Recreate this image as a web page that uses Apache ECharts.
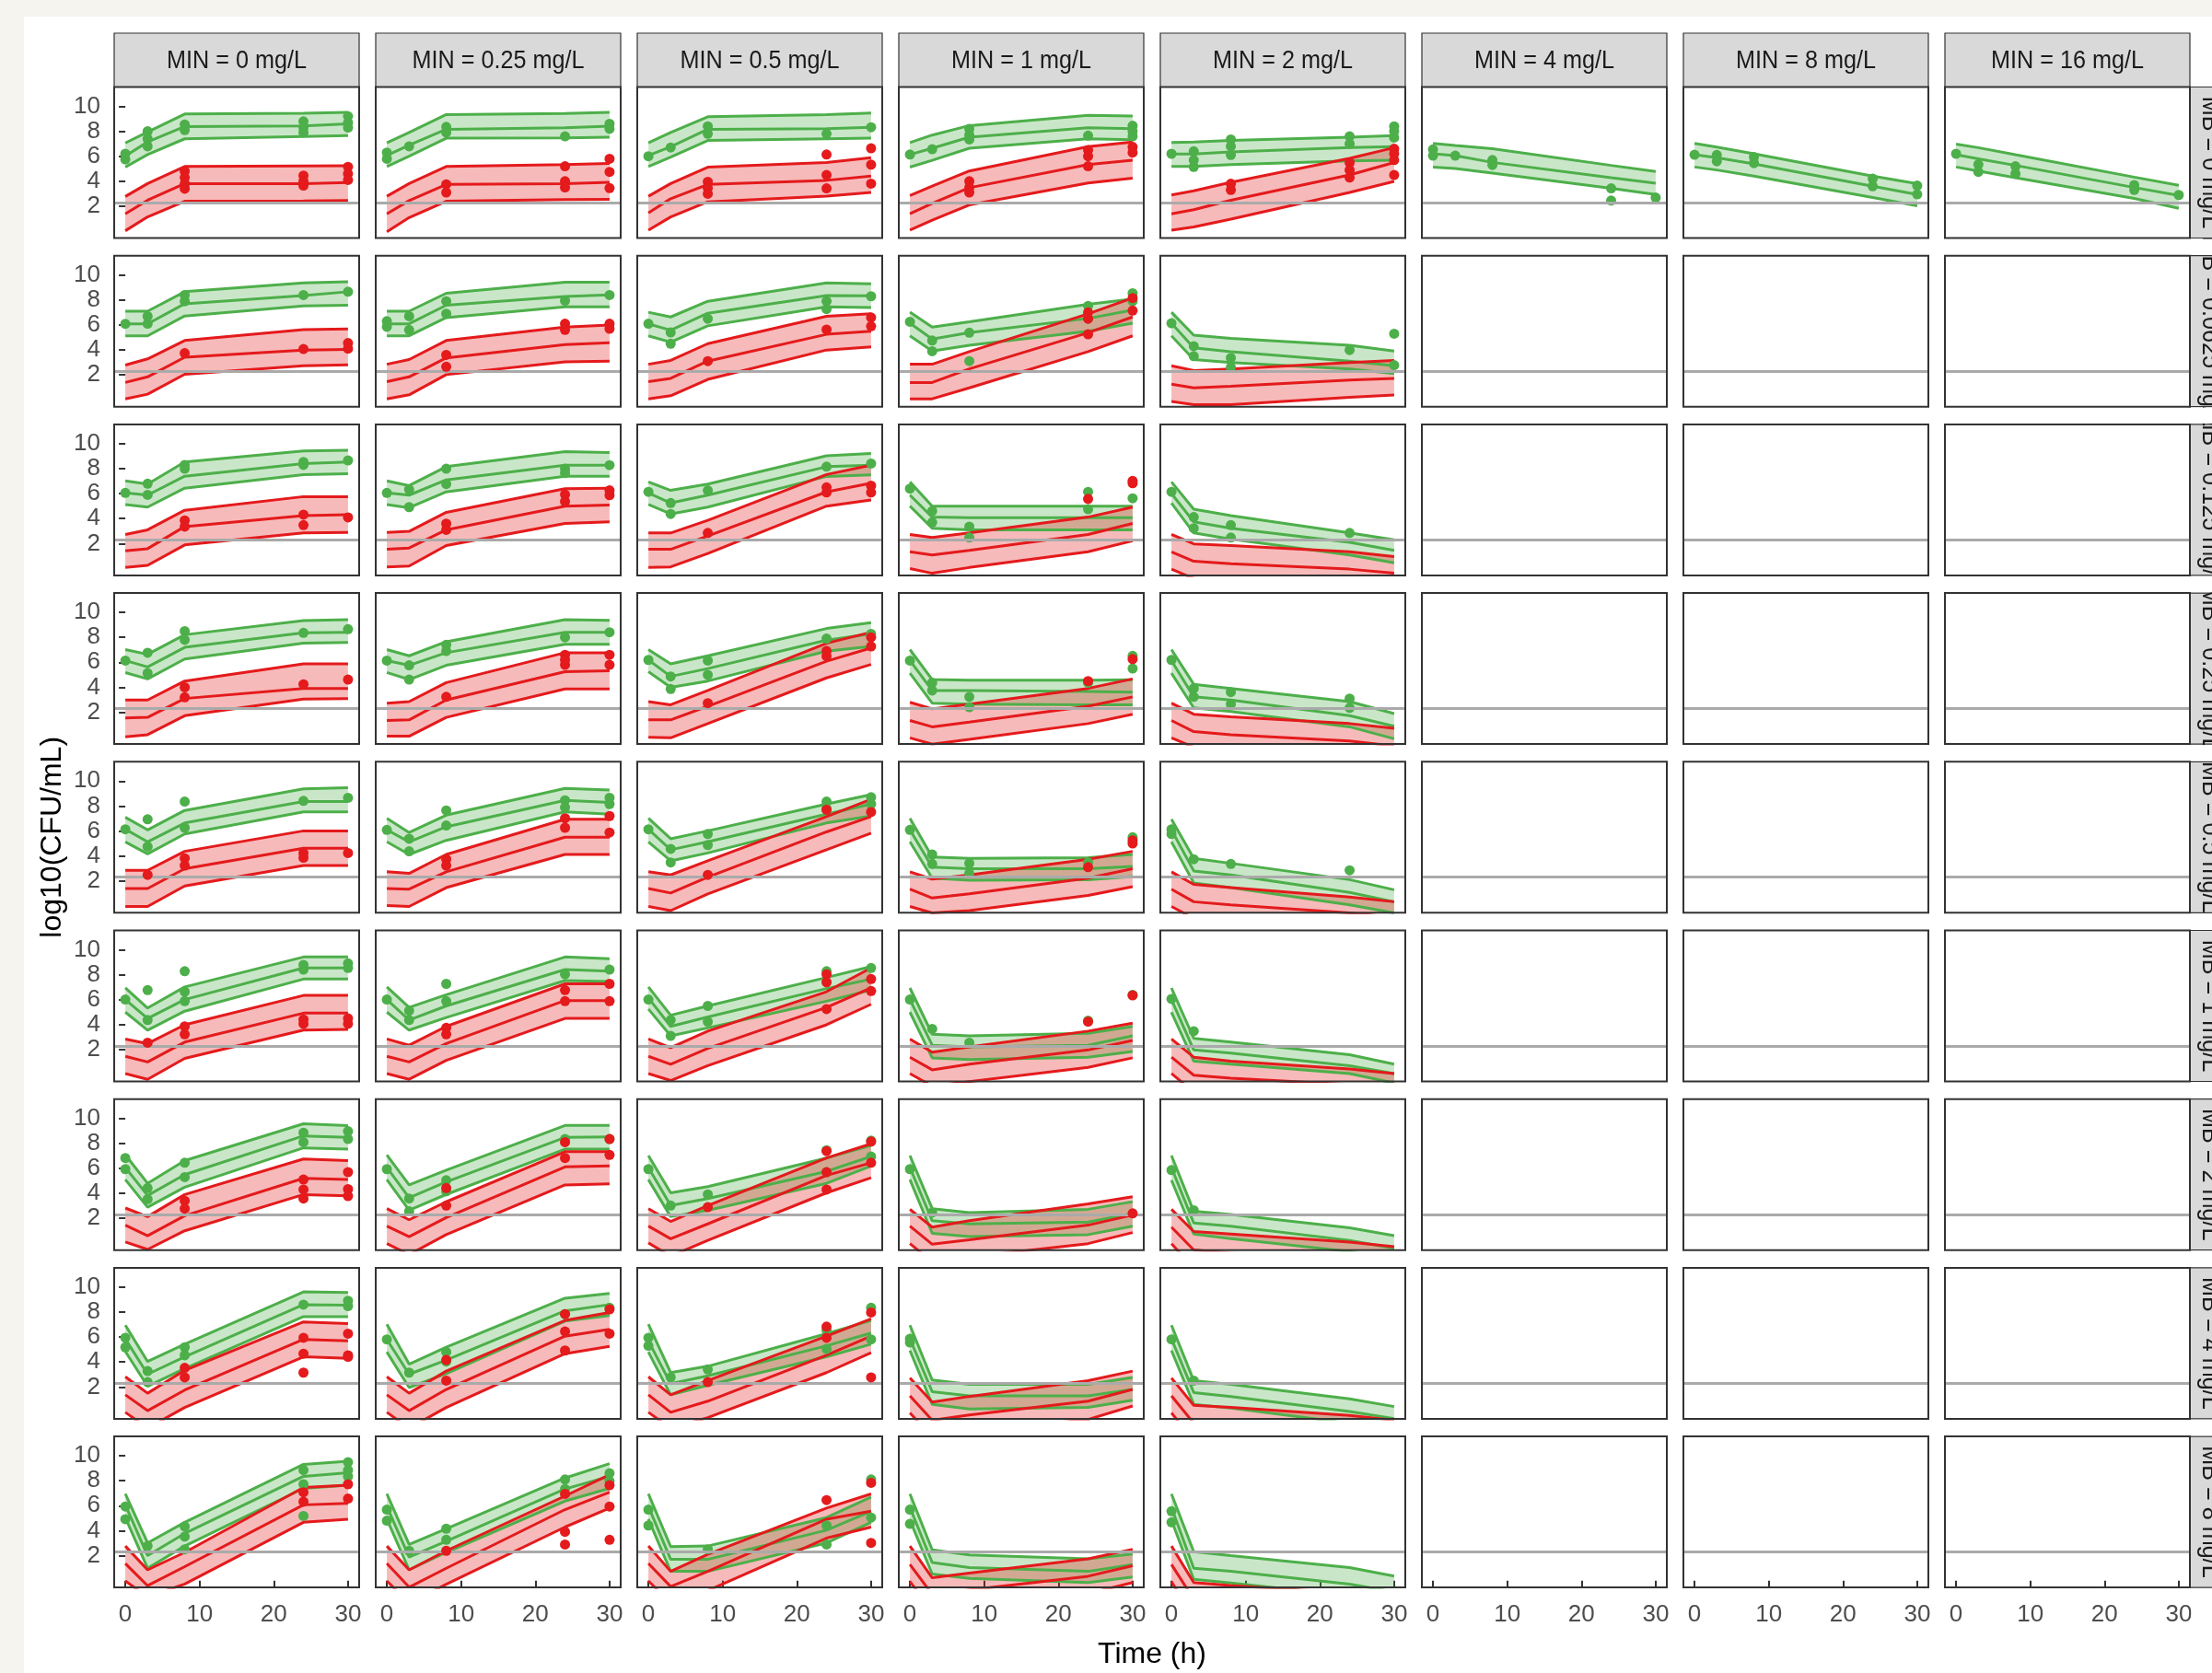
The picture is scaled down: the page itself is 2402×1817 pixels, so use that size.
<!DOCTYPE html>
<html><head><meta charset="utf-8">
<script src="https://cdn.jsdelivr.net/npm/echarts@6/dist/echarts.min.js"></script>
<style>
html,body{margin:0;padding:0;background:#f5f4ef;overflow:hidden;}
#bg{position:absolute;left:26px;top:18px;right:0;bottom:0;background:#ffffff;}
#c{position:absolute;left:0;top:0;width:2402px;height:1817px;}
</style>
</head><body><div id="bg"></div><div id="c"></div>
<script>
// ---------- shared scales / labels ----------
const times = [0, 3, 8, 24, 30];
const xTicks = [0, 10, 20, 30];
const yTicks = [2, 4, 6, 8, 10];
const LOQ = 2.3;
const minLabels = ['MIN = 0 mg/L','MIN = 0.25 mg/L','MIN = 0.5 mg/L','MIN = 1 mg/L','MIN = 2 mg/L','MIN = 4 mg/L','MIN = 8 mg/L','MIN = 16 mg/L'];
const mbLabels = ['MB = 0 mg/L','MB = 0.0625 mg/L','MB = 0.125 mg/L','MB = 0.25 mg/L','MB = 0.5 mg/L','MB = 1 mg/L','MB = 2 mg/L','MB = 4 mg/L','MB = 8 mg/L'];

// ---------- row MB = 0 ----------
const gHi0 = [[7.07,7.95,9.39,9.45,9.52],[7.07,7.90,9.34,9.42,9.52],[7.07,7.90,9.17,9.34,9.47],[7.10,7.70,8.46,9.29,9.22],[7.10,7.15,7.27,7.53,7.65],[7.03,6.86,6.61,5.27,4.78],[7.03,6.74,6.20,4.41,3.80],[6.98,6.69,6.12,4.33,3.67]];
const gMid0 = [[6.01,7.15,8.38,8.43,8.59],[6.06,6.90,8.16,8.28,8.41],[6.06,6.77,8.16,8.21,8.33],[6.14,6.64,7.53,8.28,8.21],[6.19,6.19,6.34,6.69,6.77],[6.20,6.05,5.51,4.29,3.84],[6.12,5.88,5.39,3.60,2.94],[6.12,5.80,5.27,3.50,2.86]];
const gLo0 = [[5.13,6.14,7.40,7.58,7.65],[5.18,6.01,7.45,7.48,7.53],[5.18,5.93,7.27,7.40,7.45],[5.13,5.68,6.64,7.40,7.32],[5.18,5.18,5.33,5.63,5.68],[5.14,5.02,4.65,3.43,2.94],[5.14,4.90,4.41,2.69,2.03],[5.14,4.82,4.29,2.62,1.83]];
const rHi0 = [[2.78,3.81,5.18,5.23,5.25],[2.80,3.81,5.18,5.33,5.43],[2.80,3.81,5.13,5.50,5.88],[2.85,3.61,4.82,6.77,7.15],[2.90,3.23,3.91,5.83,6.69]];
const rMid0 = [[1.39,2.48,3.81,3.81,3.90],[1.39,2.45,3.74,3.81,3.91],[1.46,2.60,3.74,4.07,4.42],[1.39,2.22,3.48,5.33,5.68],[1.39,1.72,2.48,4.50,5.50]];
const rLo0 = [[0.03,1.14,2.40,2.42,2.45],[-0.05,1.09,2.40,2.53,2.55],[0.08,1.14,2.35,2.80,3.10],[0.08,0.88,2.10,3.86,4.24],[0.08,0.33,0.96,3.10,3.99]];
const gPts0 = [
 [[0,6.2],[0,5.75],[3,8.0],[3,7.4],[3,6.8],[8,8.55],[8,8.1],[24,8.8],[24,8.3],[24,7.9],[30,9.2],[30,8.7],[30,8.3]],
 [[0,6.3],[0,5.8],[3,6.8],[8,8.35],[8,7.9],[24,7.6],[30,8.6],[30,8.2]],
 [[0,6.0],[3,6.7],[8,8.4],[8,7.8],[24,7.8],[30,8.33]],
 [[0,6.14],[3,6.57],[8,8.2],[8,7.7],[8,7.35],[24,7.65],[30,8.45],[30,8.0],[30,7.6]],
 [[0,6.2],[3,6.4],[3,5.7],[3,5.15],[8,7.35],[8,6.8],[8,6.1],[24,7.6],[24,7.0],[30,8.4],[30,8.0],[30,7.5]],
 [[0,6.55],[0,6.05],[3,6.05],[8,5.7],[8,5.3],[24,3.43],[24,2.45],[30,2.69]],
 [[0,6.12],[3,6.1],[3,5.6],[8,5.95],[8,5.45],[24,4.2],[24,3.6],[30,3.65],[30,2.95]],
 [[0,6.2],[3,5.35],[3,4.75],[8,5.2],[8,4.6],[24,3.7],[24,3.3],[30,2.9]]
];
const rPts0 = [
 [[8,4.8],[8,4.3],[8,3.8],[8,3.4],[24,4.45],[24,4.0],[24,3.65],[30,5.15],[30,4.6],[30,4.1]],
 [[8,3.75],[8,3.1],[24,5.2],[24,4.0],[24,3.5],[30,5.8],[30,4.75],[30,3.45]],
 [[8,3.95],[8,3.45],[8,3.0],[24,6.14],[24,4.5],[24,3.43],[30,6.64],[30,5.33],[30,3.81]],
 [[8,4.0],[8,3.5],[8,3.1],[24,6.5],[24,6.0],[24,5.2],[30,6.75],[30,6.3]],
 [[8,3.8],[8,3.3],[24,5.5],[24,4.9],[24,4.3],[30,6.6],[30,6.2],[30,5.7],[30,4.5]]
];

// ---------- row MB = 0.0625 ----------
const gHi1 = [[7.10,7.10,8.66,9.37,9.47],[7.10,7.10,8.54,9.42,9.42],[7.02,6.64,7.90,9.37,9.29],[7.02,5.83,6.26,7.65,8.08],[7.02,5.18,4.92,4.37,3.91]];
const gMid1 = [[6.09,6.09,7.70,8.36,8.66],[6.09,6.09,7.58,8.28,8.41],[6.09,5.58,6.94,8.36,8.33],[6.14,4.87,5.38,6.52,7.20],[6.14,4.17,3.86,3.10,2.73]];
const gLo1 = [[5.13,5.13,6.72,7.53,7.58],[5.13,5.13,6.59,7.45,7.45],[5.13,4.62,5.93,7.45,7.40],[5.13,3.91,4.37,5.50,6.14],[5.13,3.23,2.98,2.48,2.10]];
const rHi1 = [[2.78,3.28,4.75,5.63,5.68],[2.85,3.23,4.75,5.83,6.00],[2.85,3.16,4.50,6.70,6.90],[2.85,2.85,3.86,6.89,8.16],[2.73,2.35,2.48,2.98,3.16]];
const rMid1 = [[1.39,1.84,3.41,3.99,4.04],[1.46,1.84,3.36,4.42,4.57],[1.46,1.72,3.10,5.25,5.50],[1.39,1.39,2.48,5.38,6.64],[1.26,0.96,1.08,1.59,1.72]];
const rLo1 = [[0.08,0.45,2.05,2.73,2.80],[0.08,0.40,2.02,3.05,3.10],[0.08,0.33,1.64,3.99,4.24],[0.08,0.08,0.96,3.86,5.13],[-0.13,-0.38,-0.38,0.20,0.38]];
const gPts1 = [
 [[0,6.09],[3,6.7],[3,6.1],[8,8.4],[8,7.9],[24,8.4],[30,8.66]],
 [[0,6.3],[0,5.85],[3,6.7],[3,5.6],[8,7.9],[8,6.9],[24,7.95],[30,8.4]],
 [[0,6.1],[3,5.4],[3,4.5],[8,6.5],[24,7.9],[24,7.27],[30,8.3]],
 [[0,6.26],[3,4.75],[3,3.9],[8,5.38],[8,3.1],[24,7.52],[24,6.52],[30,8.54],[30,7.9]],
 [[0,6.14],[3,4.3],[3,3.5],[8,3.36],[8,2.6],[24,3.99],[30,5.3],[30,2.78]]
];
const rPts1 = [
 [[8,3.74],[24,4.07],[30,4.55],[30,4.1]],
 [[8,3.6],[8,2.65],[24,6.1],[24,5.6],[30,6.1],[30,5.7]],
 [[8,3.1],[24,5.63],[30,6.6],[30,5.9]],
 [[24,7.0],[24,6.5],[24,5.25],[30,8.16],[30,7.15]],
 []
];

// ---------- row MB = 0.125 ----------
const gHi2 = [[7.02,6.77,8.54,9.42,9.47],[7.02,6.64,8.16,9.37,9.29],[6.94,6.26,6.77,9.04,9.22],[6.94,5.00,5.00,5.00,5.00],[6.94,4.75,4.24,2.85,2.30]];
const gMid2 = [[6.06,5.88,7.40,8.41,8.54],[6.06,5.88,7.10,8.28,8.28],[6.06,5.25,5.88,8.16,8.28],[5.88,4.12,4.07,4.07,4.07],[6.01,3.74,3.23,2.10,1.46]];
const gLo2 = [[5.13,4.92,6.44,7.53,7.60],[5.13,4.87,6.14,7.40,7.40],[5.13,4.37,4.92,7.38,7.50],[5.00,3.23,3.10,3.10,3.10],[5.25,2.85,2.35,1.08,0.45]];
const rHi2 = [[2.73,3.10,4.67,5.76,5.76],[2.90,2.98,4.50,6.39,6.44],[2.85,2.85,3.86,7.53,8.28],[2.73,2.48,2.85,4.12,4.92],[2.73,1.97,1.84,1.34,0.96]];
const rMid2 = [[1.41,1.59,3.36,4.24,4.32],[1.54,1.64,3.10,5.00,5.08],[1.54,1.54,2.60,6.14,6.84],[1.34,1.08,1.46,2.73,3.61],[1.34,0.58,0.38,-0.05,-0.38]];
const rLo2 = [[0.08,0.25,1.89,2.85,2.90],[0.13,0.20,1.84,3.61,3.74],[0.08,0.13,1.21,5.00,5.50],[0.00,-0.38,0.08,1.34,2.22],[-0.05,-0.80,-0.95,-1.40,-1.75]];
const gPts2 = [
 [[0,6.06],[3,6.8],[3,5.9],[8,8.3],[8,8.0],[24,8.54],[24,8.3],[30,8.66]],
 [[0,6.06],[3,6.34],[3,4.92],[8,8.0],[8,6.77],[24,8.0],[24,7.65],[30,8.28]],
 [[0,6.14],[3,5.25],[3,4.37],[8,6.26],[24,8.16],[30,8.41]],
 [[0,6.4],[3,4.6],[3,3.7],[8,3.36],[8,2.48],[24,6.14],[24,4.75],[30,5.63]],
 [[0,6.14],[3,4.12],[3,3.23],[8,3.48],[8,2.48],[24,2.85]]
];
const rPts2 = [
 [[8,3.86],[8,3.36],[24,4.32],[24,3.48],[30,4.1]],
 [[8,3.6],[8,3.1],[24,5.93],[24,5.38],[30,6.26],[30,5.88]],
 [[8,2.85],[24,6.5],[24,6.1],[30,6.64],[30,6.1]],
 [[24,5.58],[30,7.02],[30,6.84]],
 []
];

// ---------- row MB = 0.25 ----------
const gHi3 = [[7.02,6.64,8.21,9.34,9.42],[7.02,6.52,7.65,9.42,9.37],[7.02,5.88,6.52,8.71,9.17],[7.02,4.62,4.57,4.57,4.60],[7.02,4.24,3.91,2.85,1.89]];
const gMid3 = [[6.14,5.63,7.20,8.36,8.41],[6.14,5.76,6.77,8.41,8.41],[6.19,4.87,5.50,7.78,8.28],[6.14,3.74,3.74,3.66,3.61],[6.14,3.23,2.98,1.72,0.88]];
const gLo3 = [[5.18,4.67,6.26,7.53,7.60],[5.18,4.62,5.76,7.45,7.45],[5.25,3.99,4.50,6.89,7.27],[5.13,2.73,2.65,2.60,2.60],[5.13,2.35,2.05,0.83,-0.13]];
const rHi3 = [[2.98,2.98,4.50,5.88,5.88],[2.73,2.85,4.37,6.77,6.77],[2.85,2.60,3.74,7.53,8.41],[2.80,2.27,2.65,3.91,4.67],[2.73,1.84,1.64,1.09,0.71]];
const rMid3 = [[1.54,1.59,3.10,3.91,3.91],[1.34,1.39,2.98,5.25,5.33],[1.39,1.39,2.48,6.09,7.15],[1.34,0.83,1.21,2.48,3.23],[1.34,0.45,0.20,-0.30,-0.70]];
const rLo3 = [[0.03,0.20,1.72,3.05,3.10],[0.08,0.08,1.59,3.86,3.86],[0.00,-0.05,1.09,4.75,5.83],[-0.05,-0.56,-0.18,1.09,1.84],[-0.05,-0.80,-1.05,-1.55,-2.00]];
const gPts3 = [
 [[0,6.14],[3,6.77],[3,5.13],[8,8.5],[8,7.8],[24,8.36],[30,8.66]],
 [[0,6.14],[3,5.76],[3,4.62],[8,7.4],[8,6.9],[24,8.0],[30,8.41]],
 [[0,6.19],[3,4.87],[3,3.86],[8,6.14],[8,5.0],[24,7.9],[30,8.28]],
 [[0,6.14],[3,4.37],[3,3.74],[8,3.23],[8,2.4],[24,4.37],[30,6.52],[30,5.5]],
 [[0,6.19],[3,3.91],[3,3.23],[8,3.61],[8,2.65],[24,3.1],[24,2.35]]
];
const rPts3 = [
 [[8,4.0],[8,3.2],[24,4.24],[30,4.62]],
 [[8,3.23],[24,6.6],[24,6.2],[24,5.8],[30,6.6],[30,5.8]],
 [[8,2.73],[24,6.9],[24,6.5],[30,8.0],[30,7.27]],
 [[24,4.5],[30,6.26]],
 []
];

// ---------- row MB = 0.5 ----------
const gHi4 = [[7.10,6.09,7.65,9.37,9.47],[7.02,5.88,7.27,9.42,9.29],[7.02,5.38,6.01,8.16,8.91],[7.02,3.91,3.81,3.86,4.12],[6.94,3.81,3.41,2.10,1.29]];
const gMid4 = [[6.14,5.13,6.64,8.36,8.36],[6.09,5.13,6.34,8.46,8.28],[6.14,4.50,5.13,7.35,8.16],[6.09,3.10,2.98,2.98,3.16],[6.09,2.80,2.48,1.08,0.33]];
const gLo4 = [[5.13,4.17,5.76,7.53,7.53],[5.13,4.12,5.25,7.53,7.35],[5.13,3.61,4.24,6.64,7.20],[5.13,2.22,2.05,2.10,2.35],[5.13,1.84,1.46,0.08,-0.56]];
const rHi4 = [[2.85,2.85,4.37,6.01,6.01],[2.73,2.60,4.12,6.94,6.94],[2.73,2.48,3.61,7.15,8.54],[2.73,2.15,2.48,3.74,4.37],[2.73,1.72,1.46,0.71,0.33]];
const rMid4 = [[1.39,1.39,2.98,4.62,4.62],[1.39,1.34,2.73,5.50,5.50],[1.39,1.03,2.30,5.93,7.15],[1.34,0.63,0.96,2.22,2.98],[1.34,0.33,0.08,-0.56,-0.93]];
const rLo4 = [[-0.05,-0.05,1.59,3.23,3.23],[0.03,-0.05,1.46,4.12,4.12],[-0.05,-0.38,0.96,4.50,5.83],[-0.05,-0.56,-0.38,0.83,1.54],[-0.05,-1.00,-1.25,-1.70,-2.10]];
const gPts4 = [
 [[0,6.14],[3,6.94],[3,4.75],[8,8.36],[8,6.26],[24,8.41],[30,8.66]],
 [[0,6.09],[3,5.38],[3,4.37],[8,7.65],[8,6.44],[24,8.46],[24,7.9],[30,8.66],[30,8.16]],
 [[0,6.14],[3,4.57],[3,3.48],[8,5.76],[8,4.87],[24,8.36],[24,7.78],[30,8.71],[30,8.16]],
 [[0,6.09],[3,4.12],[3,3.36],[8,3.41],[8,2.6],[24,3.48],[30,5.5]],
 [[0,6.14],[0,5.76],[3,3.74],[8,3.36],[24,2.85]]
];
const rPts4 = [
 [[3,2.48],[8,3.81],[8,3.23],[24,4.24],[24,3.86],[30,4.24]],
 [[8,3.74],[8,3.23],[24,7.02],[24,6.26],[30,7.2],[30,5.88]],
 [[8,2.48],[24,7.7],[30,7.52]],
 [[24,3.1],[30,5.25],[30,5.0]],
 []
];

// ---------- row MB = 1 ----------
const gHi5 = [[6.94,5.33,7.02,9.42,9.42],[7.02,5.38,6.39,9.42,9.29],[7.02,4.75,5.50,7.78,8.66],[6.94,3.23,3.10,3.31,3.86],[6.94,2.90,2.60,1.59,0.83]];
const gMid5 = [[6.01,4.50,6.01,8.54,8.54],[6.01,4.37,5.50,8.41,8.28],[6.14,3.86,4.62,6.89,7.65],[6.01,2.35,2.22,2.35,3.10],[6.01,1.97,1.72,0.71,0.08]];
const gLo5 = [[5.00,3.56,5.08,7.65,7.65],[5.00,3.56,4.57,7.53,7.45],[5.25,3.10,3.74,5.88,6.77],[5.00,1.34,1.21,1.39,1.84],[5.00,1.08,0.83,0.08,-0.68]];
const rHi5 = [[2.85,2.48,3.99,6.34,6.34],[2.85,2.35,3.86,7.27,7.27],[2.85,2.15,3.48,6.64,8.54],[2.85,1.79,2.22,3.48,4.12],[2.85,1.39,1.08,0.45,0.08]];
const rMid5 = [[1.46,1.01,2.60,4.92,4.92],[1.46,1.01,2.48,5.93,5.93],[1.46,0.83,2.10,5.38,6.94],[1.39,0.38,0.83,1.97,2.73],[1.39,-0.05,-0.30,-0.80,-1.20]];
const rLo5 = [[0.08,-0.38,1.29,3.56,3.61],[0.08,-0.38,1.14,4.50,4.50],[0.08,-0.48,0.71,3.99,5.63],[0.08,-0.93,-0.56,0.58,1.34],[0.08,-1.40,-1.70,-2.20,-2.60]];
const gPts5 = [
 [[0,6.01],[3,6.77],[3,4.37],[8,8.28],[8,6.64],[8,5.88],[24,8.79],[24,8.41],[30,8.91],[30,8.54]],
 [[0,6.01],[3,5.13],[3,4.37],[8,7.27],[8,5.88],[24,8.03],[30,8.41]],
 [[0,6.01],[3,4.37],[3,3.1],[8,5.5],[8,4.24],[24,8.28],[30,8.54]],
 [[0,6.01],[3,3.66],[8,2.55],[24,4.32],[30,6.39]],
 [[0,6.06],[3,3.48]]
];
const rPts5 = [
 [[3,2.55],[8,3.86],[8,3.23],[24,4.42],[24,4.07],[30,4.5],[30,4.07]],
 [[8,3.74],[8,3.23],[24,6.77],[24,5.88],[30,7.27],[30,5.88]],
 [[24,8.03],[24,7.4],[24,5.25],[30,7.65],[30,6.69]],
 [[24,4.24],[30,6.34]],
 []
];

// ---------- row MB = 2 ----------
const gHi6 = [[7.08,4.80,6.62,9.57,9.42],[7.08,4.67,5.86,9.44,9.44],[7.03,4.04,4.54,6.83,7.84],[7.03,2.77,2.46,2.72,3.33],[7.03,2.56,2.31,1.24,0.61]];
const gMid6 = [[6.07,3.83,5.50,8.60,8.48],[6.07,3.65,4.92,8.48,8.53],[6.07,3.02,3.58,5.76,6.95],[6.07,1.80,1.55,1.70,2.39],[6.07,1.62,1.37,0.23,-0.41]];
const gLo6 = [[5.10,2.89,4.49,7.64,7.54],[5.10,2.64,3.91,7.54,7.54],[5.10,2.13,2.64,4.80,6.19],[5.10,0.79,0.53,0.69,1.37],[5.05,0.74,0.36,-0.66,-1.42]];
const rHi6 = [[2.82,2.13,3.90,6.75,6.62],[2.77,1.88,3.32,7.34,7.34],[2.77,1.75,3.02,6.83,7.97],[2.72,1.29,1.80,3.15,3.73],[2.72,0.94,0.74,0.10,-0.28]];
const rMid6 = [[1.45,0.60,2.20,5.20,5.10],[1.37,0.53,2.06,6.12,6.20],[1.37,0.36,1.55,5.43,6.45],[1.37,-0.08,0.28,1.45,2.26],[1.29,-0.53,-0.80,-1.30,-1.70]];
const rLo6 = [[0.10,-0.50,1.00,3.90,3.80],[-0.03,-0.91,0.69,4.67,4.75],[0.03,-1.04,0.23,4.04,5.25],[-0.03,-1.50,-1.10,-0.03,0.86],[-0.03,-2.00,-2.30,-2.80,-3.20]];
const gPts6 = [
 [[0,6.83],[0,5.94],[3,4.42],[3,3.53],[8,6.45],[8,5.3],[24,8.86],[24,8.1],[30,8.98],[30,8.35]],
 [[0,5.94],[3,3.58],[3,2.56],[8,5.05],[8,4.16],[24,8.35],[30,8.35]],
 [[0,5.94],[3,3.02],[8,3.91],[24,7.46],[24,5.69],[30,8.22],[30,6.95]],
 [[0,5.94],[3,2.46]],
 [[0,5.86],[3,2.64]]
];
const rPts6 = [
 [[8,3.4],[8,2.77],[24,5.1],[24,4.3],[24,3.58],[30,5.7],[30,4.34],[30,3.78]],
 [[8,4.42],[8,3.02],[24,8.1],[24,6.83],[30,8.35],[30,7.08]],
 [[8,2.89],[24,7.38],[24,5.69],[24,4.3],[30,8.15],[30,6.45]],
 [[30,2.39]],
 []
];

// ---------- row MB = 4 ----------
const gHi7 = [[6.95,4.04,5.43,9.62,9.57],[7.03,3.83,5.18,9.11,9.49],[7.03,3.15,3.66,6.27,7.33],[6.95,2.56,2.21,2.21,2.77],[6.95,2.51,2.21,1.04,0.43]];
const gMid7 = [[5.85,3.02,4.42,8.60,8.55],[5.81,3.02,4.16,8.10,8.60],[5.69,2.26,2.89,5.30,6.32],[5.86,1.62,1.29,1.29,1.80],[5.86,1.55,1.24,0.03,-0.53]];
const gLo7 = [[4.85,2.06,3.48,7.64,7.64],[4.80,1.95,3.07,7.28,7.72],[4.80,1.37,2.13,4.42,5.43],[4.92,0.61,0.23,0.36,0.94],[4.92,0.61,0.30,-0.90,-1.50]];
const rHi7 = [[2.82,1.50,3.33,7.21,7.08],[2.82,1.50,3.27,7.33,7.97],[2.82,1.37,2.51,6.07,7.46],[2.72,0.79,1.24,2.51,3.27],[2.72,0.53,0.36,-0.28,-0.66]];
const rMid7 = [[1.37,0.10,1.75,5.81,5.69],[1.37,0.10,1.80,6.07,6.62],[1.37,-0.03,0.86,4.54,6.07],[1.29,-0.66,-0.25,0.86,1.80],[1.29,-0.90,-1.10,-1.70,-2.10]];
const rLo7 = [[-0.03,-1.30,0.36,4.42,4.29],[-0.03,-1.30,0.36,4.67,5.25],[-0.03,-1.30,-0.46,3.15,4.75],[-0.08,-2.00,-1.60,-0.60,0.48],[-0.08,-2.30,-2.50,-3.00,-3.50]];
const gPts7 = [
 [[0,5.94],[0,5.18],[3,3.27],[3,2.39],[8,5.18],[8,4.54],[24,8.6],[30,8.91],[30,8.48]],
 [[0,5.81],[3,3.15],[8,4.8],[8,4.04],[24,7.84],[30,8.35]],
 [[0,5.94],[0,5.3],[3,2.77],[8,3.4],[24,6.57],[24,5.05],[30,8.35],[30,5.81]],
 [[0,5.86],[0,5.56]],
 [[0,5.81],[3,2.51]]
];
const rPts7 = [
 [[8,3.53],[8,2.77],[24,5.94],[24,4.67],[24,3.15],[30,6.27],[30,4.54],[30,4.42]],
 [[8,4.16],[8,2.51],[24,7.84],[24,6.45],[24,4.92],[30,8.22],[30,6.27]],
 [[8,2.39],[24,6.83],[24,5.94],[30,7.97],[30,2.77]],
 [],
 []
];

// ---------- row MB = 8 ----------
const gHi8 = [[6.95,3.02,4.67,9.31,9.57],[6.95,2.89,4.16,8.22,9.37],[6.95,2.72,2.77,5.05,6.70],[6.95,2.46,2.06,1.75,2.13],[6.95,2.31,2.00,1.04,0.36]];
const gMid8 = [[6.07,2.00,3.78,8.35,8.65],[5.94,1.88,3.15,7.34,8.35],[5.94,1.70,1.70,4.04,5.56],[5.86,1.45,1.04,0.74,1.29],[5.86,0.99,0.74,-0.28,-0.91]];
const gLo8 = [[5.05,0.99,2.77,7.39,7.64],[4.92,0.86,2.26,6.37,7.39],[4.92,0.74,0.74,3.02,4.67],[4.85,0.53,0.18,-0.15,0.28],[4.85,0.10,-0.20,-1.20,-1.90]];
const rHi8 = [[2.77,0.86,2.26,7.46,7.64],[2.77,0.86,2.39,6.78,8.48],[2.77,0.74,2.10,5.81,6.95],[2.77,0.23,0.60,1.75,2.51],[2.77,-0.15,-0.40,-1.00,-1.50]];
const rMid8 = [[1.37,-0.41,1.12,6.07,6.19],[1.37,-0.53,0.99,5.69,7.08],[1.37,-0.48,0.74,4.92,5.56],[1.29,-1.10,-0.75,0.35,1.19],[1.29,-1.50,-1.80,-2.40,-2.90]];
const rLo8 = [[-0.03,-1.30,-0.28,4.67,4.92],[-0.03,-1.80,-0.30,4.29,5.81],[-0.03,-1.80,-0.80,3.40,4.29],[-0.08,-2.40,-2.10,-1.05,-0.15],[-0.08,-3.00,-3.20,-3.80,-4.30]];
const gPts8 = [
 [[0,5.94],[0,4.92],[3,2.77],[8,4.34],[8,3.53],[8,2.51],[24,8.86],[24,7.72],[24,5.18],[30,9.49],[30,8.86],[30,8.35]],
 [[0,5.69],[0,4.8],[3,2.39],[8,4.16],[8,3.27],[24,8.1],[24,7.34],[30,8.6],[30,7.97]],
 [[0,5.69],[0,4.42],[8,2.51],[24,4.42],[24,2.89],[30,8.1],[30,5.05]],
 [[0,5.69],[0,4.54]],
 [[0,5.56],[0,4.67]]
];
const rPts8 = [
 [[24,7.08],[24,6.32],[30,7.72],[30,6.57]],
 [[8,2.39],[24,6.95],[24,3.91],[24,2.89],[30,7.64],[30,5.94],[30,3.27]],
 [[24,6.45],[30,7.84],[30,3.02]],
 [],
 []
];

// ---------- assemble ----------
const G_HI = [gHi0,gHi1,gHi2,gHi3,gHi4,gHi5,gHi6,gHi7,gHi8];
const G_MID = [gMid0,gMid1,gMid2,gMid3,gMid4,gMid5,gMid6,gMid7,gMid8];
const G_LO = [gLo0,gLo1,gLo2,gLo3,gLo4,gLo5,gLo6,gLo7,gLo8];
const R_HI = [rHi0,rHi1,rHi2,rHi3,rHi4,rHi5,rHi6,rHi7,rHi8];
const R_MID = [rMid0,rMid1,rMid2,rMid3,rMid4,rMid5,rMid6,rMid7,rMid8];
const R_LO = [rLo0,rLo1,rLo2,rLo3,rLo4,rLo5,rLo6,rLo7,rLo8];
const G_PTS = [gPts0,gPts1,gPts2,gPts3,gPts4,gPts5,gPts6,gPts7,gPts8];
const R_PTS = [rPts0,rPts1,rPts2,rPts3,rPts4,rPts5,rPts6,rPts7,rPts8];

const FONT = "'Liberation Sans',Arial,sans-serif";
const GREEN = '#4DAF4A', RED = '#E41A1C';
const GREEN_FILL = 'rgba(77,175,74,0.3)', RED_FILL = 'rgba(228,26,28,0.3)';
const PL = 124, PT = 94.5, PW = 266, PH = 164, DX = 284, DY = 183.2;
const NR = 9, NC = 8;
const W = 2402, H = 1817;

const grids = [], xAxes = [], yAxes = [], series = [], elements = [];

function band(g, lo, hi, fill) {
  const data = times.map((t, i) => [t, lo[i], hi[i]]);
  return {
    type: 'custom', xAxisIndex: g, yAxisIndex: g, clip: true, silent: true, z: 2,
    data: data, encode: { x: 0, y: [1, 2] },
    renderItem: function (params, api) {
      if (params.dataIndexInside !== 0) return null;
      const p = [];
      for (let i = 0; i < data.length; i++) p.push(api.coord([api.value(0, i), api.value(1, i)]));
      for (let i = data.length - 1; i >= 0; i--) p.push(api.coord([api.value(0, i), api.value(2, i)]));
      return { type: 'polygon', shape: { points: p }, style: { fill: fill } };
    }
  };
}
function line(g, vals, color) {
  return { type: 'line', xAxisIndex: g, yAxisIndex: g, silent: true, z: 3, clip: true,
    data: times.map((t, i) => [t, vals[i]]), symbol: 'none', showSymbol: false,
    lineStyle: { color: color, width: 3 } };
}
function pts(g, data, color, z) {
  return { type: 'scatter', xAxisIndex: g, yAxisIndex: g, silent: true, z: z,
    data: data, symbol: 'circle', symbolSize: 11, itemStyle: { color: color, opacity: 1 } };
}

for (let r = 0; r < NR; r++) {
  for (let c = 0; c < NC; c++) {
    const g = r * NC + c;
    const left = PL + c * DX, top = PT + r * DY;
    grids.push({ left: left, top: top, width: PW, height: PH, show: true, backgroundColor: '#ffffff', borderWidth: 0 });
    xAxes.push({ gridIndex: g, type: 'value', min: -1.5, max: 31.5,
      axisLine: { show: false }, splitLine: { show: false },
      axisTick: { show: r === NR - 1, customValues: xTicks, length: 7, lineStyle: { color: '#333333', width: 2 } },
      axisLabel: { show: r === NR - 1, customValues: xTicks, fontSize: 26, color: '#4d4d4d', margin: 17, fontFamily: FONT } });
    yAxes.push({ gridIndex: g, type: 'value', min: -0.55, max: 11.55,
      axisLine: { show: false }, splitLine: { show: false },
      axisTick: { show: c === 0, customValues: yTicks, length: 7, lineStyle: { color: '#333333', width: 2 } },
      axisLabel: { show: c === 0, customValues: yTicks, fontSize: 26, color: '#4d4d4d', margin: 15, fontFamily: FONT } });
    // limit of quantification line
    series.push({ type: 'line', xAxisIndex: g, yAxisIndex: g, data: [], silent: true, z: 1,
      markLine: { silent: true, symbol: ['none', 'none'], label: { show: false }, animation: false,
        lineStyle: { color: '#aaaaaa', width: 3, type: 'solid' }, data: [{ yAxis: LOQ }] } });
    const hasG = c < G_HI[r].length, hasR = c < R_HI[r].length;
    if (hasG) series.push(band(g, G_LO[r][c], G_HI[r][c], GREEN_FILL));
    if (hasR) series.push(band(g, R_LO[r][c], R_HI[r][c], RED_FILL));
    if (hasG) { series.push(line(g, G_HI[r][c], GREEN), line(g, G_MID[r][c], GREEN), line(g, G_LO[r][c], GREEN)); }
    if (hasR) { series.push(line(g, R_HI[r][c], RED), line(g, R_MID[r][c], RED), line(g, R_LO[r][c], RED)); }
    if (hasG) series.push(pts(g, G_PTS[r][c], GREEN, 4));
    if (hasR) series.push(pts(g, R_PTS[r][c], RED, 5));
    // panel frame on top
    elements.push({ type: 'rect', z: 100, silent: true, shape: { x: left, y: top, width: PW, height: PH },
      style: { fill: 'none', stroke: '#333333', lineWidth: 2 } });
  }
}
// top strips
for (let c = 0; c < NC; c++) {
  const left = PL + c * DX;
  elements.push({ type: 'rect', z: 99, silent: true, shape: { x: left, y: 36, width: PW, height: PT - 36 },
    style: { fill: '#d9d9d9', stroke: '#333333', lineWidth: 1.2 } });
  elements.push({ type: 'text', z: 101, silent: true, x: left + PW / 2, y: (36 + PT) / 2 + 1, scaleX: 0.9,
    style: { text: minLabels[c], fontSize: 28, fontFamily: FONT, fill: '#1a1a1a', align: 'center', verticalAlign: 'middle' } });
}
// right strips (text clipped to strip by covering the gaps)
const RX = PL + (NC - 1) * DX + PW;
for (let r = 0; r < NR; r++) {
  const top = PT + r * DY;
  elements.push({ type: 'rect', z: 99, silent: true, shape: { x: RX, y: top, width: 58, height: PH },
    style: { fill: '#d9d9d9', stroke: '#333333', lineWidth: 1.2 } });
  elements.push({ type: 'text', z: 101, silent: true, x: 2400, y: top + PH / 2, rotation: -Math.PI / 2, scaleX: 0.9,
    style: { text: mbLabels[r], fontSize: 28, fontFamily: FONT, fill: '#1a1a1a', align: 'center', verticalAlign: 'middle' } });
  const gapTop = top + PH + 1, gapBot = (r < NR - 1) ? PT + (r + 1) * DY - 1 : H;
  elements.push({ type: 'rect', z: 102, silent: true, shape: { x: RX + 1.5, y: gapTop, width: W - RX, height: gapBot - gapTop },
    style: { fill: '#ffffff' } });
}
elements.push({ type: 'rect', z: 102, silent: true, shape: { x: RX + 1.5, y: 18, width: W - RX, height: PT - 1 - 18 },
  style: { fill: '#ffffff' } });
// axis titles
elements.push({ type: 'text', z: 101, silent: true, x: PL + (NC - 1) * DX / 2 + PW / 2, y: 1797,
  style: { text: 'Time (h)', fontSize: 32, fontFamily: FONT, fill: '#000000', align: 'center', verticalAlign: 'middle' } });
elements.push({ type: 'text', z: 101, silent: true, x: 57, y: PT + ((NR - 1) * DY + PH) / 2, rotation: Math.PI / 2,
  style: { text: 'log10(CFU/mL)', fontSize: 32, fontFamily: FONT, fill: '#000000', align: 'center', verticalAlign: 'middle' } });

const chart = echarts.init(document.getElementById('c'), null, { renderer: 'canvas', width: W, height: H });
chart.setOption({
  animation: false,
  backgroundColor: 'transparent',
  grid: grids, xAxis: xAxes, yAxis: yAxes, series: series,
  graphic: { elements: elements }
});
</script>
</body></html>
